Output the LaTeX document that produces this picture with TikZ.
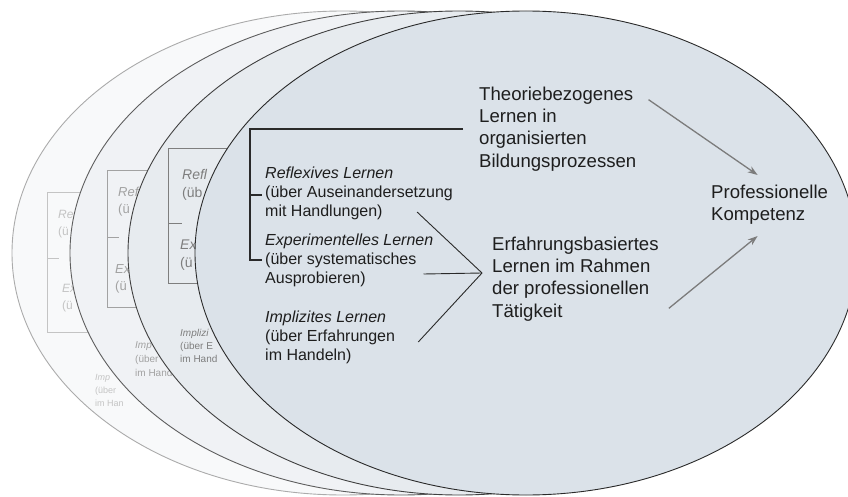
\documentclass[tikz,border=0pt]{standalone}
\usepackage{fontspec}
\setmainfont{Liberation Sans}
\usepackage{tikz}
\usetikzlibrary{arrows.meta,positioning,calc}
\definecolor{InkDark}{HTML}{1E1E1E}
\definecolor{LineDark}{HTML}{2A2A2A}
\definecolor{ArrowGray}{HTML}{7C7C7C}
\definecolor{FillFront}{HTML}{DBE2E9}
\definecolor{FillSecond}{HTML}{E7EBEF}
\definecolor{FillThird}{HTML}{F0F2F5}
\definecolor{FillBack}{HTML}{F8F9FA}
\definecolor{LineSecond}{HTML}{404040}
\definecolor{LineThird}{HTML}{5E5E5E}
\definecolor{LineBack}{HTML}{ABABAB}
\definecolor{GhostSecond}{HTML}{7E7E7E}
\definecolor{GhostThird}{HTML}{A2A2A2}
\definecolor{GhostBack}{HTML}{C4C4C4}
\tikzset{
  layer/.style={line width=0.9pt},
  gbox/.style={line width=0.9pt},
  brk/.style={line width=1.1pt,draw=LineDark},
  conv/.style={line width=0.9pt,draw=LineDark},
  arr/.style={-{Stealth[length=10pt,width=7pt]},line width=1.3pt,draw=ArrowGray,fill=ArrowGray},
  lbl/.style={inner sep=0pt,anchor=west,align=left,text=InkDark,
              font=\fontsize{16}{19}\selectfont},
  big/.style={inner sep=0pt,anchor=west,align=left,text=InkDark,
              font=\fontsize{18.6}{22.3}\selectfont},
  ghost/.style={inner sep=0pt,anchor=west,align=left}
}

\begin{document}
\begin{tikzpicture}[x=1pt,y=-1pt]
  \useasboundingbox (0,0) rectangle (848,497);

  \draw[layer,fill=FillBack,draw=LineBack] (343,253) ellipse [x radius=331pt,y radius=242pt];
  \draw[gbox,draw=GhostBack] (147,192) -- (47,192) -- (47,332) -- (147,332);
  \draw[gbox,draw=GhostBack] (47,258) -- (59,258);
  \node[ghost,text=GhostBack,font=\fontsize{12}{17}\selectfont] (reflfour) at (58,224) {\textit{Re}\\(ü};
  \node[ghost,text=GhostBack,font=\fontsize{12}{17}\selectfont] (expefour) at (62,298) {\textit{Ex}\\(ü};
  \node[ghost,text=GhostBack,font=\fontsize{9}{13}\selectfont] (implfour) at (95,390) {\textit{Imp}\\(über\\im Han};

  \draw[layer,fill=FillThird,draw=LineThird] (401,253) ellipse [x radius=331pt,y radius=242pt];
  \draw[gbox,draw=GhostThird] (207,170) -- (107,170) -- (107,307) -- (207,307);
  \draw[gbox,draw=GhostThird] (107,237) -- (119,237);
  \node[ghost,text=GhostThird,font=\fontsize{13}{17}\selectfont] (reflthree) at (118,202) {\textit{Ref}\\(ü};
  \node[ghost,text=GhostThird,font=\fontsize{13}{17}\selectfont] (expethree) at (115,279) {\textit{Ex}\\(ü};
  \node[ghost,text=GhostThird,font=\fontsize{10}{14}\selectfont] (implthree) at (135,359) {\textit{Imp}\\(über\\im Hand};

  \draw[layer,fill=FillSecond,draw=LineSecond] (459,253) ellipse [x radius=331pt,y radius=242pt];
  \draw[gbox,draw=GhostSecond] (268,148) -- (168,148) -- (168,283) -- (268,283);
  \draw[gbox,draw=GhostSecond] (168,223) -- (182,223);
  \node[ghost,text=GhostSecond,font=\fontsize{14}{18}\selectfont] (refltwo) at (182,185) {\textit{Refl}\\(üb};
  \node[ghost,text=GhostSecond,font=\fontsize{14}{18}\selectfont] (expetwo) at (180,255) {\textit{Ex}\\(ü};
  \node[ghost,text=GhostSecond,font=\fontsize{10}{13}\selectfont] (impltwo) at (180,346) {\textit{Implizi}\\(über E\\im Hand};

  \draw[layer,fill=FillFront,draw=LineDark] (526,253) ellipse [x radius=331pt,y radius=242pt];

  \node[lbl] (refl) at (265,193) {\textit{Reflexives Lernen}\\(über Auseinandersetzung\\mit Handlungen)};
  \node[lbl] (expe) at (265,260) {\textit{Experimentelles Lernen}\\(über systematisches\\Ausprobieren)};
  \node[lbl] (impl) at (265,337) {\textit{Implizites Lernen}\\(über Erfahrungen\\im Handeln)};
  \node[big] (theo) at (479,129) {Theoriebezogenes\\Lernen in\\organisierten\\Bildungsprozessen};
  \node[big] (erfa) at (492,279) {Erfahrungsbasiertes\\Lernen im Rahmen\\der professionellen\\Tätigkeit};
  \node[big] (prof) at (711,205) {Professionelle\\Kompetenz};

  \coordinate (apex) at ([shift={(-10,-6)}]erfa.west);
  \draw[brk] ([xshift=-16pt]theo.west) -| ([xshift=-15pt]expe.west) -- ([xshift=-3pt]expe.west);
  \draw[brk] ([xshift=-15pt,yshift=-2pt]refl.west) -- ([xshift=-3pt,yshift=-2pt]refl.west);
  \draw[conv] ([shift={(-36,19)}]refl.east) -- (apex);
  \draw[conv] ([shift={(-10,14)}]expe.east) -- (apex);
  \draw[conv] ([shift={(23,5)}]impl.east) -- (apex);

  \draw[arr] ([shift={(12,13)}]theo.north east) -- ([shift={(-12,-10)}]prof.north);
  \draw[arr] ([shift={(10,-13)}]erfa.south east) -- ([shift={(-12,11)}]prof.south);
\end{tikzpicture}
\end{document}
